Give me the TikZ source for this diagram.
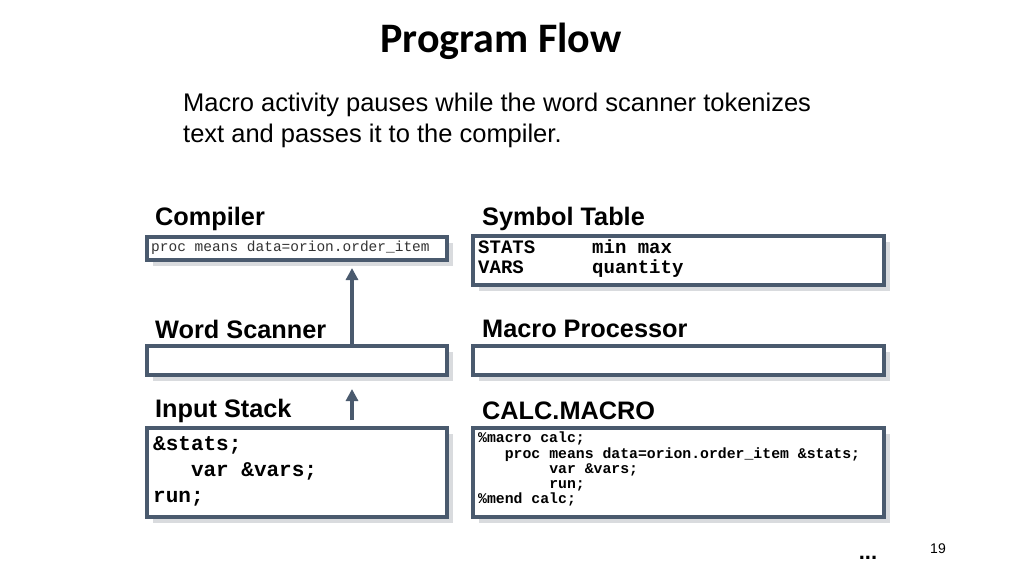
\documentclass[tikz,border=0pt]{standalone}
\usepackage{fontspec}
\setmainfont{Liberation Sans}
\setmonofont{Liberation Mono}
\newfontfamily\titlefont{Carlito}
\usetikzlibrary{arrows.meta}
\definecolor{bord}{HTML}{4A5A6E}
\definecolor{shad}{HTML}{D9DBDE}
\begin{document}
\begin{tikzpicture}[x=1pt,y=-1pt,
  box/.style={draw=bord,line width=3.2pt,fill=white},
  lbl/.style={anchor=west,inner sep=0pt,font=\fontsize{25.3}{28}\selectfont\bfseries},
  code/.style={anchor=north west,inner sep=0pt,align=left},
  arr/.style={draw=bord,line width=3.2pt,-{Triangle[length=12pt,width=12pt]}}]
\useasboundingbox (0,0) rectangle (1024,576);
\node[font=\titlefont\fontsize{42}{46}\selectfont\bfseries] (title) at (501,41) {Program Flow};
\node[anchor=north west,inner sep=0pt,align=left,font=\fontsize{25.5}{31}\selectfont] (desc) at (183,93) {Macro activity pauses while the word scanner tokenizes\\text and passes it to the compiler.};
\foreach \a/\b/\c/\d in {147/237/447/260, 473/236/884/285, 147/346/447/375, 473/346/884/375, 147/428/447/517, 473/428/884/517}
  \fill[shad] (\a+6,\b+6) rectangle (\c+6,\d+6);
\draw[box] (147,237) rectangle (447,260);
\draw[box] (473,236) rectangle (884,285);
\draw[box] (147,346) rectangle (447,375);
\draw[box] (473,346) rectangle (884,375);
\draw[box] (147,428) rectangle (447,517);
\draw[box] (473,428) rectangle (884,517);
\node[lbl] (lc) at (155,219) {Compiler};
\node[lbl] (ls) at (482,219) {Symbol Table};
\node[lbl] (lw) at (155,329) {Word Scanner};
\node[lbl] (lm) at (482,329) {Macro Processor};
\node[lbl] (li) at (155,411) {Input Stack};
\node[lbl] (lk) at (482,411) {CALC.MACRO};
\node[code,font=\ttfamily\fontsize{14.5}{16}\selectfont,text=black!80] (cc) at (151,241) {proc means data=orion.order\_item};
\node[code,font=\ttfamily\bfseries\fontsize{19}{20}\selectfont] (st) at (478,240) {STATS\ \ \ \ \ min max\\VARS\ \ \ \ \ \ quantity};
\node[code,font=\ttfamily\bfseries\fontsize{21}{26}\selectfont] (is) at (153,436) {\&stats;\\\ \ \ var \&vars;\\run;};
\node[code,font=\ttfamily\bfseries\fontsize{14.8}{15.2}\selectfont] (cm) at (478,432) {\%macro calc;\\\ \ \ proc means data=orion.order\_item \&stats;\\\ \ \ \ \ \ \ \ var \&vars;\\\ \ \ \ \ \ \ \ run;\\\%mend calc;};
\coordinate (a1s) at (352,346); \coordinate (a1e) at (352,268);
\coordinate (a2s) at (352,420); \coordinate (a2e) at (352,389);
\draw[arr] (a1s) -- (a1e);
\draw[arr] (a2s) -- (a2e);
\node[font=\fontsize{14}{15}\selectfont] (pg) at (938,549) {19};
\node[font=\fontsize{22}{22}\selectfont\bfseries] (dots) at (868,558) {...};
\end{tikzpicture}
\end{document}
